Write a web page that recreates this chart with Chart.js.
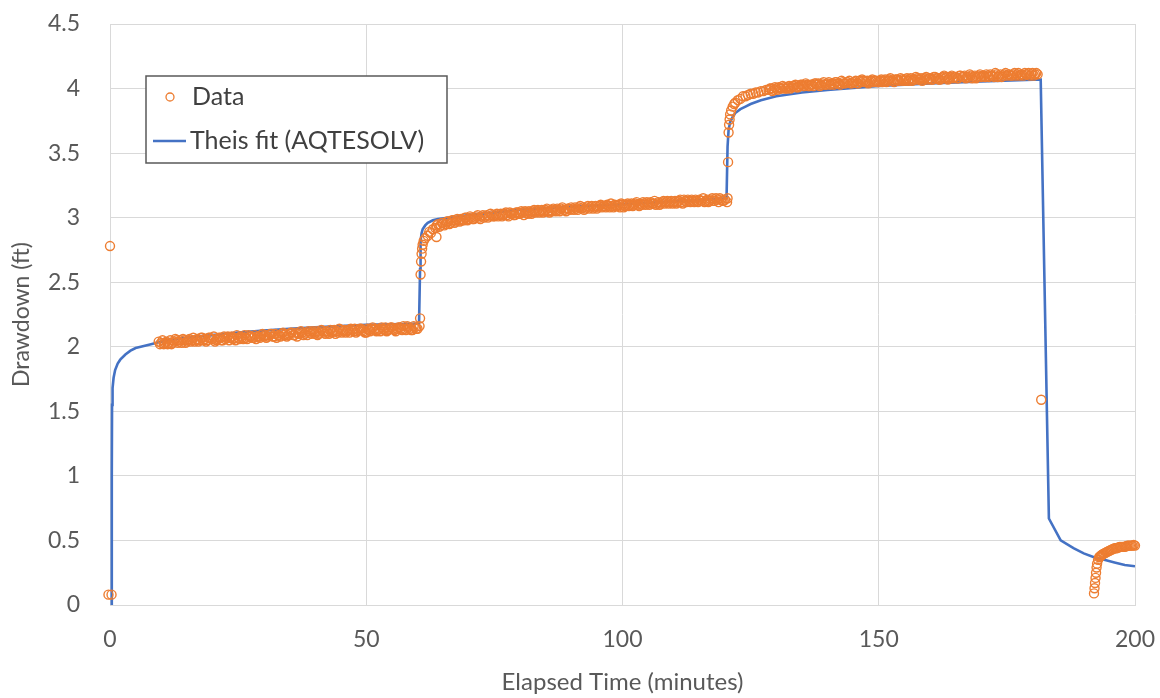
<!DOCTYPE html>
<html>
<head>
<meta charset="utf-8">
<script src="https://cdn.jsdelivr.net/npm/chart.js@4.4.1/dist/chart.umd.min.js"></script>
<style>
  html, body { margin: 0; padding: 0; background: #fff; }
  #wrap { width: 1160px; height: 698px; }
</style>
</head>
<body>
<div id="wrap"><canvas id="drawdown_chart"></canvas></div>
<script>
// observed drawdown, [minutes, ft]
var obsStart = [[0, 2.78], [-0.3, 0.08], [0.3, 0.08]];

var obsPump1 = [
  [9.5,2.04],[10,2.03],[10.5,2.02],[11,2.04],[11.5,2.03],[12,2.02],[12.5,2.04],[13,2.05],[13.5,2.04],[14,2.03],
  [14.5,2.05],[15,2.04],[15.5,2.06],[16,2.05],[16.5,2.04],[17,2.06],[17.5,2.05],[18,2.07],[18.5,2.06],[19,2.05],
  [19.5,2.07],[20,2.06],[20.5,2.04],[21,2.06],[21.5,2.07],[22,2.05],[22.5,2.06],[23,2.08],[23.5,2.07],[24,2.06],
  [24.5,2.05],[25,2.07],[25.5,2.08],[26,2.06],[26.5,2.07],[27,2.09],[27.5,2.08],[28,2.07],[28.5,2.06],[29,2.08],
  [29.5,2.09],[30,2.08],[30.5,2.07],[31,2.09],[31.5,2.10],[32,2.08],[32.5,2.07],[33,2.09],[33.5,2.10],[34,2.09],
  [34.5,2.08],[35,2.10],[35.5,2.11],[36,2.09],[36.5,2.08],[37,2.10],[37.5,2.11],[38,2.10],[38.5,2.09],[39,2.11],
  [39.5,2.12],[40,2.10],[40.5,2.09],[41,2.11],[41.5,2.12],[42,2.10],[42.5,2.11],[43,2.13],[43.5,2.12],[44,2.10],
  [44.5,2.11],[45,2.13],[45.5,2.12],[46,2.11],[46.5,2.13],[47,2.14],[47.5,2.12],[48,2.11],[48.5,2.13],[49,2.14],
  [49.5,2.12],[50,2.11],[50.5,2.13],[51,2.14],[51.5,2.13],[52,2.12],[52.5,2.14],[53,2.15],[53.5,2.13],[54,2.12],
  [54.5,2.14],[55,2.15],[55.5,2.13],[56,2.14],[56.5,2.15],[57,2.13],[57.5,2.14],[58,2.16],[58.5,2.14],[59,2.13],
  [59.5,2.15],[60,2.14],
  [9.75,2.02],[10.25,2.05],[10.75,2.03],[11.25,2.02],[11.75,2.05],[12.25,2.03],[12.75,2.06],[13.25,2.03],[13.75,2.05],[14.25,2.06],
  [14.75,2.03],[15.25,2.05],[15.75,2.04],[16.25,2.07],[16.75,2.05],[17.25,2.04],[17.75,2.07],[18.25,2.05],[18.75,2.04],[19.25,2.07],
  [19.75,2.06],[20.25,2.08],[20.75,2.05],[21.25,2.07],[21.75,2.05],[22.25,2.08],[22.75,2.07],[23.25,2.05],[23.75,2.08],[24.25,2.07],
  [24.75,2.09],[25.25,2.06],[25.75,2.07],[26.25,2.09],[26.75,2.06],[27.25,2.08],[27.75,2.07],[28.25,2.09],[28.75,2.08],[29.25,2.07],
  [29.75,2.10],[30.25,2.09],[30.75,2.08],[31.25,2.10],[31.75,2.08],[32.25,2.10],[32.75,2.09],[33.25,2.08],[33.75,2.11],[34.25,2.10],
  [34.75,2.09],[35.25,2.11],[35.75,2.09],[36.25,2.11],[36.75,2.10],[37.25,2.12],[37.75,2.09],[38.25,2.11],[38.75,2.12],[39.25,2.10],
  [39.75,2.11],[40.25,2.12],[40.75,2.10],[41.25,2.13],[41.75,2.11],[42.25,2.12],[42.75,2.10],[43.25,2.11],[43.75,2.13],[44.25,2.12],
  [44.75,2.14],[45.25,2.11],[45.75,2.13],[46.25,2.12],[46.75,2.11],[47.25,2.13],[47.75,2.14],[48.25,2.12],[48.75,2.14],[49.25,2.13],
  [49.75,2.11],[50.25,2.14],[50.75,2.12],[51.25,2.15],[51.75,2.14],[52.25,2.13],[52.75,2.12],[53.25,2.14],[53.75,2.15],[54.25,2.13],
  [54.75,2.15],[55.25,2.14],[55.75,2.12],[56.25,2.15],[56.75,2.14],[57.25,2.16],[57.75,2.13],[58.25,2.15],[58.75,2.13],[59.25,2.16],
  [59.75,2.14]
];

var obsPump2 = [
  [60.4,2.16],[60.5,2.22],[60.6,2.56],[60.7,2.66],[60.8,2.72],[60.9,2.76],[61,2.79],[61.2,2.82],[61.5,2.84],
  [62,2.86],[62.3,2.89],[62.6,2.88],[63,2.91],[63.7,2.85],
  [63.5,2.92],[64,2.95],[64.5,2.94],[65,2.96],[65.5,2.95],[66,2.97],[66.5,2.96],[67,2.98],[67.5,2.97],[68,2.98],
  [68.5,2.99],[69,2.98],[69.5,3.00],[70,2.99],[70.5,3.00],[71,2.99],[71.5,3.01],[72,3.00],[72.5,3.01],[73,3.00],
  [73.5,3.02],[74,3.01],[74.5,3.02],[75,3.01],[75.5,3.03],[76,3.02],[76.5,3.01],[77,3.03],[77.5,3.02],[78,3.04],
  [78.5,3.03],[79,3.02],[79.5,3.04],[80,3.03],[80.5,3.04],[81,3.05],[81.5,3.03],[82,3.04],[82.5,3.05],[83,3.04],
  [83.5,3.06],[84,3.05],[84.5,3.04],[85,3.06],[85.5,3.05],[86,3.06],[86.5,3.07],[87,3.05],[87.5,3.06],[88,3.07],
  [88.5,3.06],[89,3.05],[89.5,3.07],[90,3.08],[90.5,3.06],[91,3.07],[91.5,3.08],[92,3.07],[92.5,3.06],[93,3.08],
  [93.5,3.07],[94,3.09],[94.5,3.08],[95,3.07],[95.5,3.09],[96,3.08],[96.5,3.09],[97,3.10],[97.5,3.08],[98,3.09],
  [98.5,3.10],[99,3.09],[99.5,3.08],[100,3.10],[100.5,3.09],[101,3.11],[101.5,3.10],[102,3.09],[102.5,3.11],[103,3.10],
  [103.5,3.11],[104,3.12],[104.5,3.10],[105,3.11],[105.5,3.12],[106,3.11],[106.5,3.10],[107,3.12],[107.5,3.11],[108,3.13],
  [108.5,3.12],[109,3.11],[109.5,3.13],[110,3.12],[110.5,3.11],[111,3.13],[111.5,3.12],[112,3.14],[112.5,3.12],[113,3.13],
  [113.5,3.14],[114,3.12],[114.5,3.13],[115,3.14],[115.5,3.13],[116,3.12],[116.5,3.14],[117,3.13],[117.5,3.15],[118,3.13],
  [118.5,3.14],[119,3.15],[119.5,3.13],[120,3.14],
  [63.75,2.94],[64.25,2.93],[64.75,2.96],[65.25,2.94],[65.75,2.97],[66.25,2.95],[66.75,2.98],[67.25,2.96],[67.75,2.99],[68.25,2.97],
  [68.75,2.98],[69.25,3.00],[69.75,2.98],[70.25,3.01],[70.75,2.99],[71.25,3.00],[71.75,3.02],[72.25,2.99],[72.75,3.02],[73.25,3.01],
  [73.75,3.00],[74.25,3.03],[74.75,3.01],[75.25,3.02],[75.75,3.01],[76.25,3.03],[76.75,3.02],[77.25,3.04],[77.75,3.01],[78.25,3.03],
  [78.75,3.02],[79.25,3.04],[79.75,3.03],[80.25,3.05],[80.75,3.02],[81.25,3.04],[81.75,3.05],[82.25,3.03],[82.75,3.06],[83.25,3.05],
  [83.75,3.04],[84.25,3.06],[84.75,3.05],[85.25,3.07],[85.75,3.04],[86.25,3.05],[86.75,3.06],[87.25,3.07],[87.75,3.05],[88.25,3.08],
  [88.75,3.06],[89.25,3.07],[89.75,3.06],[90.25,3.07],[90.75,3.08],[91.25,3.06],[91.75,3.09],[92.25,3.08],[92.75,3.07],[93.25,3.09],
  [93.75,3.08],[94.25,3.07],[94.75,3.09],[95.25,3.08],[95.75,3.10],[96.25,3.09],[96.75,3.08],[97.25,3.09],[97.75,3.11],[98.25,3.08],
  [98.75,3.09],[99.25,3.10],[99.75,3.11],[100.25,3.08],[100.75,3.10],[101.25,3.09],[101.75,3.11],[102.25,3.10],[102.75,3.12],[103.25,3.09],
  [103.75,3.10],[104.25,3.11],[104.75,3.12],[105.25,3.10],[105.75,3.11],[106.25,3.13],[106.75,3.11],[107.25,3.10],[107.75,3.12],[108.25,3.11],
  [108.75,3.13],[109.25,3.12],[109.75,3.11],[110.25,3.13],[110.75,3.12],[111.25,3.14],[111.75,3.11],[112.25,3.13],[112.75,3.14],[113.25,3.12],
  [113.75,3.13],[114.25,3.14],[114.75,3.12],[115.25,3.13],[115.75,3.15],[116.25,3.13],[116.75,3.12],[117.25,3.14],[117.75,3.13],[118.25,3.15],
  [118.75,3.12],[119.25,3.14],[119.75,3.13]
];

var obsPump3 = [
  [120.4,3.12],[120.5,3.15],[120.6,3.43],[120.7,3.66],[120.8,3.72],[120.9,3.76],[121,3.80],[121.2,3.83],[121.5,3.86],
  [121.8,3.88],[122,3.89],[122.5,3.91],[123,3.92],[123.5,3.94],[124,3.94],[124.5,3.95],[125,3.96],[125.5,3.96],
  [126,3.97],[126.5,3.97],[127,3.98],[127.5,3.98],[128,3.99],
  [128.5,3.99],[129,4.00],[129.5,3.99],[130,4.00],[130.5,4.01],[131,4.00],[131.5,4.01],[132,4.00],[132.5,4.02],[133,4.01],
  [133.5,4.02],[134,4.01],[134.5,4.02],[135,4.03],[135.5,4.02],[136,4.03],[136.5,4.02],[137,4.03],[137.5,4.04],[138,4.03],
  [138.5,4.02],[139,4.04],[139.5,4.03],[140,4.04],[140.5,4.03],[141,4.04],[141.5,4.05],[142,4.04],[142.5,4.03],[143,4.05],
  [143.5,4.04],[144,4.05],[144.5,4.04],[145,4.05],[145.5,4.06],[146,4.04],[146.5,4.05],[147,4.06],[147.5,4.05],[148,4.04],
  [148.5,4.06],[149,4.05],[149.5,4.06],[150,4.05],[150.5,4.07],[151,4.06],[151.5,4.05],[152,4.07],[152.5,4.06],[153,4.05],
  [153.5,4.07],[154,4.06],[154.5,4.07],[155,4.06],[155.5,4.08],[156,4.07],[156.5,4.06],[157,4.07],[157.5,4.08],[158,4.07],
  [158.5,4.06],[159,4.08],[159.5,4.07],[160,4.08],[160.5,4.07],[161,4.09],[161.5,4.08],[162,4.07],[162.5,4.09],[163,4.08],
  [163.5,4.07],[164,4.09],[164.5,4.08],[165,4.09],[165.5,4.08],[166,4.10],[166.5,4.09],[167,4.08],[167.5,4.09],[168,4.10],
  [168.5,4.09],[169,4.08],[169.5,4.10],[170,4.09],[170.5,4.10],[171,4.11],[171.5,4.09],[172,4.10],[172.5,4.09],[173,4.11],
  [173.5,4.10],[174,4.09],[174.5,4.11],[175,4.10],[175.5,4.11],[176,4.10],[176.5,4.12],[177,4.11],[177.5,4.10],[178,4.11],
  [178.5,4.12],[179,4.11],[179.5,4.10],[180,4.12],[180.5,4.11],[181,4.11],
  [128.75,4.00],[129.25,3.98],[129.75,4.01],[130.25,3.99],[130.75,4.00],[131.25,4.02],[131.75,4.00],[132.25,4.01],[132.75,4.00],[133.25,4.02],
  [133.75,4.03],[134.25,4.01],[134.75,4.03],[135.25,4.02],[135.75,4.04],[136.25,4.02],[136.75,4.03],[137.25,4.02],[137.75,4.04],[138.25,4.04],
  [138.75,4.03],[139.25,4.05],[139.75,4.03],[140.25,4.05],[140.75,4.04],[141.25,4.03],[141.75,4.05],[142.25,4.04],[142.75,4.06],[143.25,4.04],
  [143.75,4.05],[144.25,4.06],[144.75,4.04],[145.25,4.05],[145.75,4.04],[146.25,4.06],[146.75,4.07],[147.25,4.05],[147.75,4.06],[148.25,4.05],
  [148.75,4.07],[149.25,4.06],[149.75,4.05],[150.25,4.06],[150.75,4.05],[151.25,4.07],[151.75,4.06],[152.25,4.08],[152.75,4.06],[153.25,4.07],
  [153.75,4.06],[154.25,4.08],[154.75,4.06],[155.25,4.07],[155.75,4.06],[156.25,4.08],[156.75,4.07],[157.25,4.09],[157.75,4.07],[158.25,4.08],
  [158.75,4.07],[159.25,4.09],[159.75,4.08],[160.25,4.07],[160.75,4.09],[161.25,4.08],[161.75,4.07],[162.25,4.08],[162.75,4.10],[163.25,4.09],
  [163.75,4.08],[164.25,4.10],[164.75,4.09],[165.25,4.08],[165.75,4.10],[166.25,4.09],[166.75,4.10],[167.25,4.09],[167.75,4.11],[168.25,4.08],
  [168.75,4.10],[169.25,4.09],[169.75,4.11],[170.25,4.10],[170.75,4.09],[171.25,4.10],[171.75,4.11],[172.25,4.10],[172.75,4.12],[173.25,4.09],
  [173.75,4.11],[174.25,4.10],[174.75,4.12],[175.25,4.11],[175.75,4.10],[176.25,4.11],[176.75,4.10],[177.25,4.12],[177.75,4.11],[178.25,4.10],
  [178.75,4.11],[179.25,4.12],[179.75,4.11],[180.25,4.10],[180.75,4.12]
];

var obsRecovery = [
  [181.7,1.59],
  [192.0,0.09],[192.1,0.13],[192.2,0.17],[192.3,0.21],[192.4,0.25],[192.5,0.29],[192.6,0.32],[192.8,0.35],
  [193,0.37],[193.3,0.38],[193.6,0.39],[194,0.40],[194.5,0.41],[195,0.42],[195.5,0.43],[196,0.44],[196.5,0.44],
  [197,0.45],[197.5,0.45],[198,0.45],[198.5,0.46],[199,0.46],[199.5,0.46],[200,0.46],
  [193.15,0.375],[193.45,0.385],[193.8,0.395],[194.25,0.405],[194.75,0.415],[195.25,0.425],[195.75,0.435],
  [196.25,0.44],[196.75,0.445],[197.25,0.45],[197.75,0.45],[198.25,0.455],[198.75,0.46],[199.25,0.46],[199.75,0.465]
];

// AQTESOLV Theis fit curve, [minutes, ft]
var theisFit = [
  [0.3,0],[0.35,1.0],[0.4,1.55],[0.5,1.68],[0.7,1.76],[1,1.82],[1.5,1.87],[2,1.9],[3,1.94],[4,1.97],[5,1.99],
  [6,2.0],[8,2.02],[10,2.04],[13,2.06],[16,2.075],[20,2.09],[25,2.11],[30,2.125],[35,2.14],[40,2.15],[45,2.16],
  [50,2.17],[55,2.175],[60.3,2.18],
  [60.5,2.6],[60.6,2.82],[60.8,2.88],[61,2.91],[61.5,2.94],[62,2.96],[63,2.98],[64,2.99],[66,3.0],[70,3.02],
  [75,3.04],[80,3.06],[90,3.085],[100,3.105],[110,3.125],[120.3,3.15],
  [120.5,3.55],[120.7,3.68],[121,3.74],[121.5,3.78],[122,3.81],[123,3.84],[124,3.86],[125,3.88],[127,3.91],
  [130,3.94],[135,3.97],[140,3.99],[150,4.02],[160,4.04],[170,4.055],[181.6,4.07],
  [183.2,0.67],[185.5,0.5],[188,0.44],[190,0.4],[192,0.37],[194,0.35],[196,0.33],[198,0.31],[200,0.3]
];

var seriesNames = ['Data', 'Theis fit (AQTESOLV)'];
var xTicks = [0, 50, 100, 150, 200];
var yTicks = [0, 0.5, 1, 1.5, 2, 2.5, 3, 3.5, 4, 4.5];

var toXY = function(arr) {
    var out = [];
    for (let i = 0; i < arr.length; i++) {
        out[i] = { x: arr[i][0], y: arr[i][1] };
    }
    return out;
};

var obsAll = [].concat(obsStart, obsPump1, obsPump2, obsPump3, obsRecovery);

var FONT = 'Lato, "Open Sans", sans-serif';
var ORANGE = '#ED7D31';
var BLUE = '#4472C4';
var GRID = '#d9d9d9';
var TEXT = '#595959';

// legend box sitting inside the plot, like the Excel one
var legendBox = {
    id: 'legendBox',
    afterDraw: function(chart) {
        var ctx = chart.ctx;
        var x = 146, y = 76, w = 301, h = 87;
        ctx.save();
        ctx.fillStyle = '#ffffff';
        ctx.fillRect(x, y, w, h);
        ctx.strokeStyle = '#595959';
        ctx.lineWidth = 1.5;
        ctx.strokeRect(x, y, w, h);

        ctx.beginPath();
        ctx.arc(x + 24, y + 21, 4, 0, Math.PI * 2);
        ctx.fillStyle = '#ffffff';
        ctx.fill();
        ctx.strokeStyle = ORANGE;
        ctx.lineWidth = 1.3;
        ctx.stroke();

        ctx.beginPath();
        ctx.moveTo(x + 7, y + 65);
        ctx.lineTo(x + 40, y + 65);
        ctx.strokeStyle = BLUE;
        ctx.lineWidth = 2.5;
        ctx.stroke();

        ctx.fillStyle = '#404040';
        ctx.font = '25px ' + FONT;
        ctx.textBaseline = 'middle';
        ctx.fillText(seriesNames[0], x + 46, y + 21);
        ctx.fillText(seriesNames[1], x + 44, y + 65);
        ctx.restore();
    }
};

var tickText = function(v) { return String(v); };

var ctx = document.getElementById('drawdown_chart');
var chart = new Chart(ctx, {
    type: 'scatter',
    data: {
        datasets: [{
            label: seriesNames[0],
            data: toXY(obsAll),
            showLine: false,
            pointStyle: 'circle',
            pointRadius: 4.5,
            pointBorderWidth: 1.4,
            borderColor: ORANGE,
            backgroundColor: 'rgba(255,255,255,0)',
            clip: false,
            order: 0
        }, {
            label: seriesNames[1],
            data: toXY(theisFit),
            showLine: true,
            pointRadius: 0,
            borderColor: BLUE,
            borderWidth: 2.6,
            tension: 0,
            order: 1
        }]
    },
    options: {
        responsive: true,
        maintainAspectRatio: false,
        animation: false,
        layout: { autoPadding: false, padding: { top: 24, right: 25, left: 0, bottom: 0 } },
        plugins: {
            legend: { display: false },
            tooltip: { enabled: false }
        },
        scales: {
            x: {
                type: 'linear',
                min: 0,
                max: 200,
                afterBuildTicks: function(scale) {
                    scale.ticks = xTicks.map(function(v) { return { value: v }; });
                },
                afterFit: function(scale) {
                    scale.height = 93;
                    scale.paddingLeft = 0;
                    scale.paddingRight = 0;
                },
                grid: { color: GRID, lineWidth: 1, drawTicks: false },
                border: { color: GRID },
                ticks: { color: TEXT, font: { family: FONT, size: 23 }, padding: 21, maxRotation: 0, callback: tickText },
                title: {
                    display: true,
                    text: 'Elapsed Time (minutes)',
                    color: TEXT,
                    font: { family: FONT, size: 24 },
                    padding: { top: 4, bottom: 1 }
                }
            },
            y: {
                type: 'linear',
                min: 0,
                max: 4.5,
                afterBuildTicks: function(scale) {
                    scale.ticks = yTicks.map(function(v) { return { value: v }; });
                },
                afterFit: function(scale) {
                    scale.width = 110;
                    scale.paddingTop = 0;
                    scale.paddingBottom = 0;
                },
                grid: { color: GRID, lineWidth: 1, drawTicks: false },
                border: { color: GRID },
                ticks: { color: TEXT, font: { family: FONT, size: 23 }, padding: 30, callback: tickText },
                title: {
                    display: true,
                    text: 'Drawdown (ft)',
                    color: TEXT,
                    font: { family: FONT, size: 23 },
                    padding: { top: 8, bottom: 4 }
                }
            }
        }
    },
    plugins: [legendBox]
});
</script>
</body>
</html>
